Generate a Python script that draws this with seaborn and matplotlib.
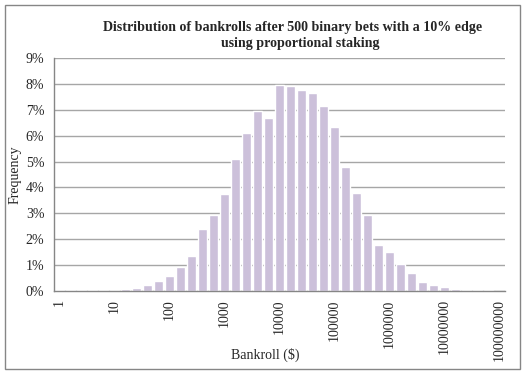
import numpy as np
import pandas as pd
import seaborn as sns
import matplotlib.pyplot as plt
from matplotlib.patches import Rectangle
from matplotlib.ticker import PercentFormatter, FixedLocator

# bins are 10^(k/5) dollars, label every 5th bin
bin_index = list(range(41))
freq_pct = [0.04, 0.04, 0.04, 0.04, 0.04, 0.04, 0.08, 0.13, 0.23, 0.39,
            0.58, 0.93, 1.35, 2.39, 2.94, 3.74, 5.09, 6.09, 6.94, 6.67,
            7.94, 7.90, 7.75, 7.63, 7.13, 6.32, 4.78, 3.78, 2.94, 1.77,
            1.50, 1.04, 0.69, 0.34, 0.22, 0.15, 0.07, 0.04, 0.04, 0.04,
            0.0]
tick_pos = [0, 5, 10, 15, 20, 25, 30, 35, 40]
tick_labels = ["1", "10", "100", "1000", "10000", "100000", "1000000",
               "10000000", "100000000"]

sns.set_style("white")
plt.rcParams['font.family'] = ['Liberation Serif', 'DejaVu Serif']

df = pd.DataFrame({"bin": bin_index, "freq": [v / 100 for v in freq_pct]})

fig = plt.figure(figsize=(5.28, 3.77), dpi=100)
ax = fig.add_axes([54 / 528, 1 - 291 / 377, 451 / 528, 233 / 377])

sns.barplot(data=df, x="bin", y="freq", order=bin_index, color="#CCC0DA",
            saturation=1, width=0.82, ax=ax)

grid_c = "#a6a6a6"
ax.set_xlim(-0.5, 40.5)
ax.set_ylim(0, 0.09)
ax.set_yticks(np.arange(0, 0.0901, 0.01))
ax.yaxis.set_major_formatter(PercentFormatter(1.0, decimals=0))
ax.yaxis.grid(True, color=grid_c, linewidth=1)
ax.set_axisbelow(True)

ax.xaxis.set_major_locator(FixedLocator(tick_pos))
ax.set_xticklabels(tick_labels, rotation=90, fontsize=10)
ax.xaxis.set_minor_locator(FixedLocator(np.arange(-0.5, 41, 1)))
ax.tick_params(axis="x", which="major", length=0, pad=6)
ax.tick_params(axis="x", which="minor", length=4, color="#868686", width=1)
ax.tick_params(axis="y", length=4, color="#868686", width=1, labelsize=10, pad=3)

for s in ["top", "right"]:
    ax.spines[s].set_visible(False)
for s in ["left", "bottom"]:
    ax.spines[s].set_color("#868686")
    ax.spines[s].set_linewidth(1)

ax.set_xlabel("Bankroll ($)", fontsize=10)
ax.xaxis.set_label_coords((265 - 54) / 451, (291 - 355) / 233)
ax.xaxis.label.set_va("center")
ax.set_ylabel("Frequency", fontsize=10)
ax.yaxis.set_label_coords((15 - 54) / 451, 0.5)
ax.yaxis.label.set_va("center")

fig.text(293 / 528, 1 - 27 / 377, "Distribution of bankrolls after 500 binary bets with a 10% edge",
         ha="center", va="center", fontsize=10.1, fontweight="bold")
fig.text(300 / 528, 1 - 43 / 377, "using proportional staking",
         ha="center", va="center", fontsize=10.1, fontweight="bold")

fig.patches.append(Rectangle((5 / 528, 1 - 369 / 377), 515 / 528, 364 / 377,
                             transform=fig.transFigure, fill=False,
                             edgecolor="#868686", linewidth=1))

fig.savefig("out.png", dpi=100)
